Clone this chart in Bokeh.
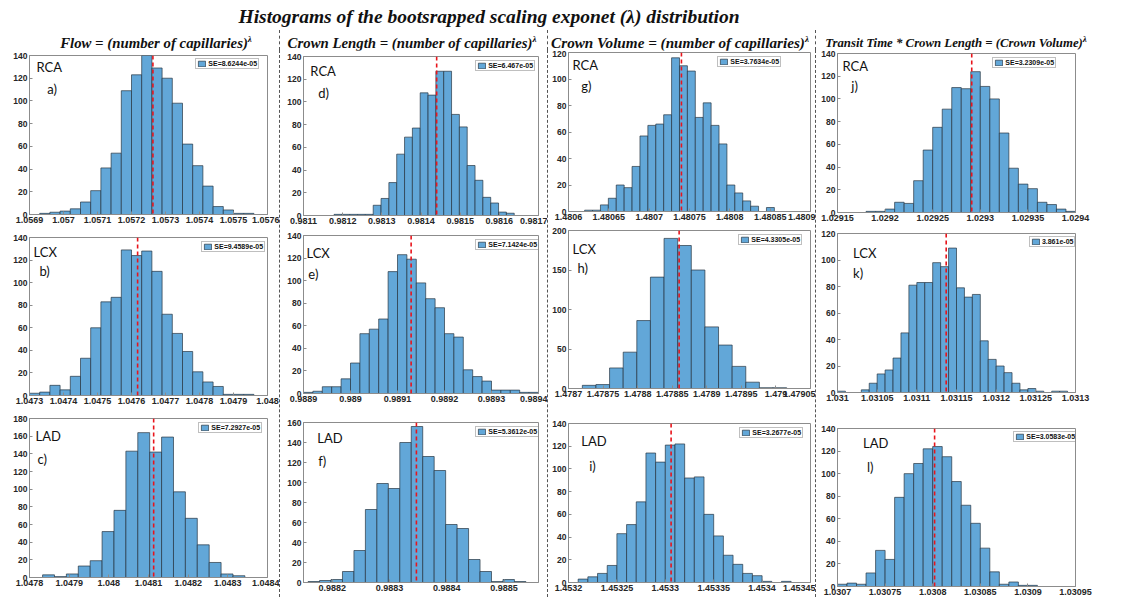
import numpy as np
from bokeh.plotting import figure
from bokeh.models import Range1d, FixedTicker, CustomJSTickFormatter, Span, Label, Div
from bokeh.layouts import row, column
from bokeh.embed import file_html
from bokeh.resources import INLINE

# ---------------- text ----------------
TITLE = "Histograms of the bootsrapped scaling exponet (λ) distribution"
COL_TITLES = ["Flow = (number of capillaries)",
              "Crown Length = (number of capillaries)",
              "Crown Volume = (number of capillaries)",
              "Transit Time * Crown Length = (Crown Volume)"]
EXPONENT = "λ"

# ---------------- data ----------------
# a) RCA, Flow
A_COUNTS = [1, 2, 3, 5, 11, 21, 41, 54, 109, 123, 140, 129, 120, 98, 62, 43, 25, 7, 4, 1, 1]
A_START, A_WIDTH, A_MEAN = 1.05693, 0.00003, 1.057263
A_SE = "SE=8.6244e-05"
A_XTICKS = [1.0569, 1.057, 1.0571, 1.0572, 1.0573, 1.0574, 1.0575, 1.0576]
A_XLIM = [1.0569, 1.0576]
A_YTICKS = [0, 20, 40, 60, 80, 100, 120, 140]

# d) RCA, Crown Length
D_COUNTS = [1, 1, 1, 1, 1, 9, 15, 29, 54, 69, 77, 108, 106, 127, 127, 89, 78, 44, 31, 16, 11, 3, 2]
D_START, D_WIDTH, D_MEAN = 0.981178, 0.00002, 0.98144
D_SE = "SE=6.467e-05"
D_XTICKS = [0.9811, 0.9812, 0.9813, 0.9814, 0.9815, 0.9816, 0.9817]
D_XLIM = [0.9811, 0.9817]
D_YTICKS = [0, 20, 40, 60, 80, 100, 120, 140]

# g) RCA, Crown Volume
G_COUNTS = [1, 1, 5, 10, 20, 18, 34, 57, 65, 66, 73, 116, 110, 106, 71, 82, 65, 51, 20, 14, 8, 4, 0, 3]
G_START, G_WIDTH, G_MEAN = 1.48062, 0.0000098, 1.48074
G_SE = "SE=3.7634e-05"
G_XTICKS = [1.4806, 1.48065, 1.4807, 1.48075, 1.4808, 1.48085, 1.4809]
G_XLIM = [1.4806, 1.4809]
G_YTICKS = [0, 20, 40, 60, 80, 100, 120]

# j) RCA, Transit Time
J_COUNTS = [1, 1, 3, 9, 8, 28, 55, 75, 91, 110, 109, 124, 111, 100, 70, 39, 25, 21, 9, 7, 3, 1]
J_START, J_WIDTH, J_MEAN = 1.02918, 0.00001, 1.029291
J_SE = "SE=3.2309e-05"
J_XTICKS = [1.02915, 1.0292, 1.02925, 1.0293, 1.02935, 1.0294]
J_XLIM = [1.02915, 1.0294]
J_YTICKS = [0, 20, 40, 60, 80, 100, 120, 140]

# b) LCX, Flow
B_COUNTS = [2, 3, 9, 5, 17, 33, 60, 83, 87, 129, 124, 128, 110, 72, 55, 39, 21, 12, 8, 1, 1, 1]
B_START, B_WIDTH, B_MEAN = 1.0473, 0.00003, 1.047618
B_SE = "SE=9.4589e-05"
B_XTICKS = [1.0473, 1.0474, 1.0475, 1.0476, 1.0477, 1.0478, 1.0479, 1.048]
B_XLIM = [1.0473, 1.048]
B_YTICKS = [0, 20, 40, 60, 80, 100, 120, 140]

# e) LCX, Crown Length
E_COUNTS = [1, 2, 6, 6, 13, 27, 53, 57, 66, 108, 123, 119, 98, 84, 76, 53, 50, 21, 15, 11, 3, 3, 3, 1, 1]
E_START, E_WIDTH, E_MEAN = 0.9889, 0.00002, 0.989129
E_SE = "SE=7.1424e-05"
E_XTICKS = [0.9889, 0.989, 0.9891, 0.9892, 0.9893, 0.9894]
E_XLIM = [0.9889, 0.9894]
E_YTICKS = [0, 20, 40, 60, 80, 100, 120, 140]

# h) LCX, Crown Volume
H_COUNTS = [4, 5, 26, 46, 86, 141, 190, 181, 150, 78, 55, 28, 8, 1, 1]
H_START, H_WIDTH, H_MEAN = 1.47872, 0.0000197, 1.47886
H_SE = "SE=4.3305e-05"
H_XTICKS = [1.4787, 1.47875, 1.4788, 1.47885, 1.4789, 1.47895, 1.479, 1.47905]
H_XLIM = [1.4787, 1.47905]
H_YTICKS = [0, 50, 100, 150, 200]

# k) LCX, Transit Time
K_COUNTS = [1, 0, 0, 2, 7, 14, 17, 26, 45, 81, 83, 83, 98, 95, 109, 79, 72, 74, 39, 25, 20, 15, 7, 2, 3, 1, 0, 1, 1]
K_START, K_WIDTH, K_MEAN = 1.031, 0.00001, 1.031137
K_SE = "3.861e-05"
K_XTICKS = [1.031, 1.03105, 1.0311, 1.03115, 1.0312, 1.03125, 1.0313]
K_XLIM = [1.031, 1.0313]
K_YTICKS = [0, 20, 40, 60, 80, 100, 120]

# c) LAD, Flow
C_COUNTS = [3, 1, 4, 13, 19, 52, 76, 143, 164, 142, 159, 97, 67, 37, 17, 4, 2]
C_START, C_WIDTH, C_MEAN = 1.047833, 0.00003, 1.048113
C_SE = "SE=7.2927e-05"
C_XTICKS = [1.0478, 1.0479, 1.048, 1.0481, 1.0482, 1.0483, 1.0484]
C_XLIM = [1.0478, 1.0484]
C_YTICKS = [0, 20, 40, 60, 80, 100, 120, 140, 160, 180]

# f) LAD, Crown Length
F_COUNTS = [1, 2, 3, 11, 32, 73, 99, 94, 140, 156, 126, 112, 58, 54, 23, 11, 1, 3, 1]
F_START, F_WIDTH, F_MEAN = 0.988158, 0.00002, 0.988347
F_SE = "SE=5.3612e-05"
F_XTICKS = [0.9882, 0.9883, 0.9884, 0.9885]
F_XLIM = [0.98815, 0.98856]
F_YTICKS = [0, 20, 40, 60, 80, 100, 120, 140, 160]

# i) LAD, Crown Volume
I_COUNTS = [3, 5, 8, 15, 43, 51, 71, 114, 106, 121, 122, 92, 93, 60, 41, 24, 16, 8, 6, 1, 0, 1]
I_START, I_WIDTH, I_MEAN = 1.45321, 0.00001, 1.453306
I_SE = "SE=3.2677e-05"
I_XTICKS = [1.4532, 1.45325, 1.4533, 1.45335, 1.4534, 1.45345]
I_XLIM = [1.4532, 1.45345]
I_YTICKS = [0, 20, 40, 60, 80, 100, 120, 140]

# l) LAD, Transit Time
L_COUNTS = [2, 3, 2, 12, 32, 24, 79, 100, 109, 122, 124, 115, 93, 72, 56, 34, 13, 2, 4, 1, 1]
L_START, L_WIDTH, L_MEAN = 1.0307, 0.00001, 1.030802
L_SE = "SE=3.0583e-05"
L_XTICKS = [1.0307, 1.03075, 1.0308, 1.03085, 1.0309, 1.03095]
L_XLIM = [1.0307, 1.03095]
L_YTICKS = [0, 20, 40, 60, 80, 100, 120, 140]

PANELS = {
    "a": (A_COUNTS, A_START, A_WIDTH, A_MEAN, A_SE, A_XTICKS, A_XLIM, A_YTICKS, "RCA", "a)"),
    "d": (D_COUNTS, D_START, D_WIDTH, D_MEAN, D_SE, D_XTICKS, D_XLIM, D_YTICKS, "RCA", "d)"),
    "g": (G_COUNTS, G_START, G_WIDTH, G_MEAN, G_SE, G_XTICKS, G_XLIM, G_YTICKS, "RCA", "g)"),
    "j": (J_COUNTS, J_START, J_WIDTH, J_MEAN, J_SE, J_XTICKS, J_XLIM, J_YTICKS, "RCA", "j)"),
    "b": (B_COUNTS, B_START, B_WIDTH, B_MEAN, B_SE, B_XTICKS, B_XLIM, B_YTICKS, "LCX", "b)"),
    "e": (E_COUNTS, E_START, E_WIDTH, E_MEAN, E_SE, E_XTICKS, E_XLIM, E_YTICKS, "LCX", "e)"),
    "h": (H_COUNTS, H_START, H_WIDTH, H_MEAN, H_SE, H_XTICKS, H_XLIM, H_YTICKS, "LCX", "h)"),
    "k": (K_COUNTS, K_START, K_WIDTH, K_MEAN, K_SE, K_XTICKS, K_XLIM, K_YTICKS, "LCX", "k)"),
    "c": (C_COUNTS, C_START, C_WIDTH, C_MEAN, C_SE, C_XTICKS, C_XLIM, C_YTICKS, "LAD", "c)"),
    "f": (F_COUNTS, F_START, F_WIDTH, F_MEAN, F_SE, F_XTICKS, F_XLIM, F_YTICKS, "LAD", "f)"),
    "i": (I_COUNTS, I_START, I_WIDTH, I_MEAN, I_SE, I_XTICKS, I_XLIM, I_YTICKS, "LAD", "i)"),
    "l": (L_COUNTS, L_START, L_WIDTH, L_MEAN, L_SE, L_XTICKS, L_XLIM, L_YTICKS, "LAD", "l)"),
}

# ---------------- layout / style ----------------
# borders L, R, T, B ; region label (x, y) ; tag (x, y) ; legend gap (right, top)   [pixels]
LAYOUT = {
    "a": (21, 10, 5, 13, 7, 6, 18, 28, 7, 4),
    "d": (21, 5, 6, 12, 7, 9, 15, 31, 5, 5),
    "g": (19, 1, 2, 16, 4, 7, 13, 28, 30, 5),
    "j": (16, 52, 3, 15, 5, 7, 14, 27, 20, 5),
    "b": (21, 10, 10, 14, 4, 9, 10, 28, 1, 5),
    "e": (22, 1, 8, 16, 3, 12, 5, 33, 4, 5),
    "h": (19, 5, 3, 21, 4, 13, 9, 32, 5, 5),
    "k": (15, 50, 6, 17, 16, 14, 16, 34, 2, 4),
    "c": (21, 12, 9, 20, 6, 12, 8, 35, 2, 5),
    "f": (17, 9, 13, 15, 14, 10, 15, 33, 1, 5),
    "i": (18, 3, 14, 15, 13, 12, 21, 37, 7, 5),
    "l": (20, 47, 19, 10, 26, 10, 30, 34, 0, 5),
}
GRID = [["a", "b", "c"], ["d", "e", "f"], ["g", "h", "i"], ["j", "k", "l"]]  # columns
COL_W = [271, 266, 266, 310]
ROW_H = [177, 182, 188]
BLUE = "#62a7d8"
EDGE = "#24313d"
RED = "#e8141b"
FRAME = "#8c8c8c"
TICKTXT = "#262626"


def make(key, w, h):
    counts, start, width, mean, se, xticks, xlim, yticks, region, tag = PANELS[key]
    L, R, T, B, rx, ry, tx, ty, lr, lt = LAYOUT[key]
    x0, x1 = xlim
    ymax = yticks[-1]
    p = figure(width=w, height=h, x_range=Range1d(x0, x1), y_range=Range1d(0, ymax),
               output_backend="svg", toolbar_location=None,
               min_border_left=L, min_border_right=R, min_border_top=T, min_border_bottom=B)
    p.background_fill_color = "white"
    p.border_fill_color = "white"
    p.xgrid.visible = False
    p.ygrid.visible = False
    p.outline_line_color = FRAME
    p.outline_line_width = 1

    c = np.array(counts, dtype=float)
    edges = start + width * np.arange(len(c) + 1)
    p.quad(left=edges[:-1], right=edges[1:], bottom=0, top=c,
           fill_color=BLUE, line_color=EDGE, line_width=0.8, line_alpha=0.85,
           legend_label=se)
    p.add_layout(Span(location=mean, dimension="height", line_color=RED,
                      line_dash="4 3", line_width=1.6))

    fw = w - L - R
    fh = h - T - B

    def dx(px):
        return x0 + px / fw * (x1 - x0)

    def dy(px):
        return ymax - px / fh * ymax

    for txt, ox, oy in ((region, rx, ry), (tag, tx, ty)):
        p.add_layout(Label(x=dx(ox), y=dy(oy - 3), text=txt, text_font="Lato",
                           text_font_size="13px", text_baseline="top", text_color="#111111"))

    for ax in (p.xaxis[0], p.yaxis[0]):
        ax.axis_line_color = FRAME
        ax.major_tick_line_color = FRAME
        ax.major_tick_in = 3
        ax.major_tick_out = 0
        ax.minor_tick_line_color = None
        ax.major_label_text_color = TICKTXT
        ax.major_label_text_font_style = "bold"
        ax.major_label_standoff = 2
    p.xaxis.ticker = FixedTicker(ticks=xticks)
    p.xaxis.formatter = CustomJSTickFormatter(code="return Number(tick.toFixed(6)).toString();")
    p.xaxis.major_label_text_font = "Liberation Sans"
    p.xaxis.major_label_text_font_size = "9px"
    p.yaxis.ticker = FixedTicker(ticks=yticks)
    p.yaxis.major_label_text_font = "Liberation Sans"
    p.yaxis.major_label_text_font_size = "8.5px"

    leg = p.legend[0]
    leg.label_text_font = "Liberation Sans"
    leg.label_text_font_style = "bold"
    leg.label_text_font_size = "7px"
    leg.label_text_color = "#111111"
    leg.glyph_width = 9
    leg.glyph_height = 7
    leg.label_height = 7
    leg.label_standoff = 2
    leg.padding = 1
    leg.spacing = 0
    leg.margin = 0
    leg.border_line_color = "#808080"
    leg.border_line_width = 1
    leg.background_fill_color = "white"
    leg.background_fill_alpha = 1
    lw = 16 + 3.9 * len(se)
    leg.location = (fw - lr - lw, fh - lt - 10)
    return p


# ---------------- header ----------------
col_centers = [148, 404, 672, 948]
col_sizes = [14.8, 14.8, 15.2, 12.8]
sep_x = [271, 539, 807]
spans = [f'<span style="position:absolute;left:481px;top:-1px;transform:translateX(-50%);'
         f'white-space:nowrap;font-size:19.5px;line-height:20px">{TITLE}</span>']
for cx, fs, t in zip(col_centers, col_sizes, COL_TITLES):
    spans.append(f'<span style="position:absolute;left:{cx}px;top:24px;transform:translateX(-50%);'
                 f'white-space:nowrap;font-size:{fs}px;line-height:15px">{t}'
                 f'<sup style="font-size:9px">{EXPONENT}</sup></span>')
for sx in sep_x:
    spans.append(f'<div style="position:absolute;left:{sx}px;top:22px;width:0;height:20px;'
                 f'border-left:1px dashed #555"></div>')
header_html = ('<div style="position:relative;width:1119px;height:42px;'
               "font-family:'Liberation Serif',serif;font-weight:bold;font-style:italic;color:#111\">"
               + "".join(spans) + "</div>")
header = Div(text=header_html, width=1119, height=42, margin=(0, 0, 0, 0))

total_h = sum(ROW_H)
cols = []
for ci, keys in enumerate(GRID):
    figs = [make(k, COL_W[ci], ROW_H[ri]) for ri, k in enumerate(keys)]
    cols.append(column(*figs, spacing=0))
    if ci < 3:
        cols.append(Div(text=f'<div style="width:0;height:{total_h}px;border-left:1px dashed #555"></div>',
                        width=2, height=total_h, margin=(0, 0, 0, 0)))

layout = column(header, row(*cols, spacing=0), spacing=0, margin=(8, 0, 0, 8))

open("out.html", "w").write(file_html(layout, INLINE))
